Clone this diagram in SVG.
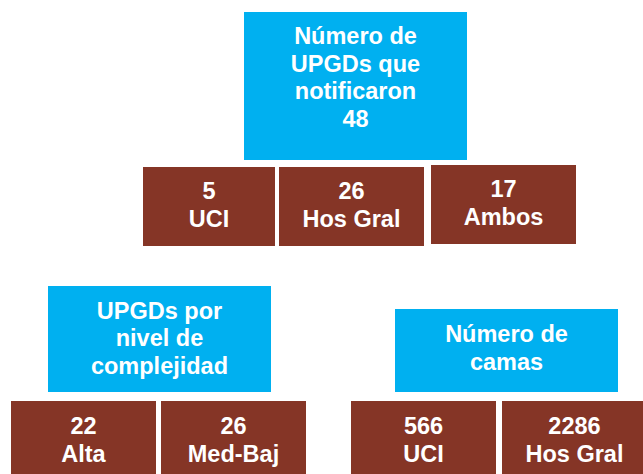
<svg xmlns="http://www.w3.org/2000/svg" width="643" height="474" viewBox="0 0 643 474">
<style>
.c{fill:#00B0F0}
.b{fill:#853526}
text{font-family:"Liberation Sans",Arial,sans-serif;font-weight:bold;font-size:23.5px;fill:#fff;text-anchor:middle}
</style>
<rect width="643" height="474" fill="#fff"/>
<g id="n-total">
<rect class="c" x="244" y="12" width="223" height="148"/>
<text x="355.5" y="44">Número de</text>
<text x="355.5" y="71.5">UPGDs que</text>
<text x="355.5" y="99">notificaron</text>
<text x="355.5" y="127">48</text>
</g>
<g id="n-uci">
<rect class="b" x="143" y="167" width="132" height="79"/>
<text x="209" y="199">5</text>
<text x="209" y="226.5">UCI</text>
</g>
<g id="n-hosgral">
<rect class="b" x="279" y="167" width="145" height="79"/>
<text x="351.5" y="199">26</text>
<text x="351.5" y="226.5">Hos Gral</text>
</g>
<g id="n-ambos">
<rect class="b" x="431" y="165" width="145" height="79"/>
<text x="503.5" y="196.5">17</text>
<text x="503.5" y="224.5">Ambos</text>
</g>
<g id="n-nivel">
<rect class="c" x="48" y="286" width="223" height="106"/>
<text x="159.5" y="318.5">UPGDs por</text>
<text x="159.5" y="346">nivel de</text>
<text x="159.5" y="373.5">complejidad</text>
</g>
<g id="n-alta">
<rect class="b" x="11" y="401" width="145" height="73"/>
<text x="83.5" y="433.5">22</text>
<text x="83.5" y="461.5">Alta</text>
</g>
<g id="n-medbaj">
<rect class="b" x="161" y="401" width="145" height="73"/>
<text x="233.5" y="433.5">26</text>
<text x="233.5" y="461.5">Med-Baj</text>
</g>
<g id="n-camas">
<rect class="c" x="395" y="309" width="223" height="83"/>
<text x="506.5" y="341.5">Número de</text>
<text x="506.5" y="370">camas</text>
</g>
<g id="n-camas-uci">
<rect class="b" x="351" y="401" width="145" height="73"/>
<text x="423.5" y="433.5">566</text>
<text x="423.5" y="461.5">UCI</text>
</g>
<g id="n-camas-hos">
<rect class="b" x="502" y="401" width="145" height="73"/>
<text x="574.5" y="433.5">2286</text>
<text x="574.5" y="461.5">Hos Gral</text>
</g>
</svg>
